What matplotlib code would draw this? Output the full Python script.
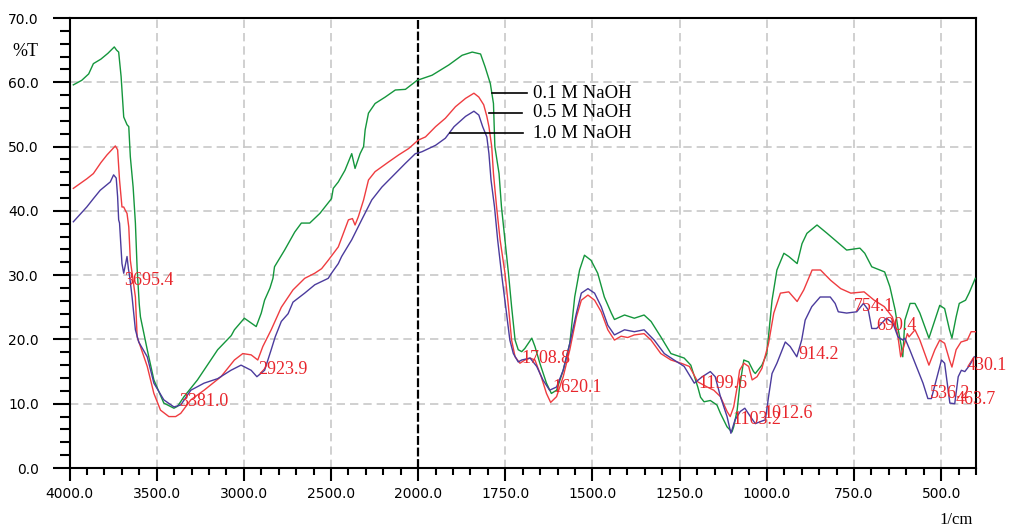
#!/usr/bin/env python3
"""FTIR transmittance spectra of samples treated with 0.1, 0.5 and 1.0 M NaOH."""

import matplotlib

matplotlib.use("Agg")
import matplotlib.pyplot as plt
import numpy as np
from matplotlib.ticker import FixedLocator, FormatStrFormatter

# wavenumber (1/cm) and transmittance (%T) for each treatment
WN_01M = [3978, 3930, 3890, 3863, 3820, 3780, 3743, 3730, 3718, 3704, 3689, 3670, 3660, 3651,
          3635, 3622, 3612, 3600, 3593, 3554, 3516, 3459, 3401, 3380, 3343, 3266, 3150, 3072,
          3054, 2997, 2960, 2929, 2900, 2881, 2850, 2833, 2824, 2766, 2708, 2670, 2622, 2564,
          2497, 2487, 2458, 2420, 2381, 2362, 2333, 2313, 2304, 2285, 2247, 2189, 2131, 2073,
          2006, 1960, 1912, 1874, 1845, 1821, 1808, 1793, 1784, 1780, 1768, 1761, 1751, 1741,
          1732, 1722, 1713, 1703, 1694, 1674, 1665, 1651, 1632, 1618, 1603, 1584, 1565, 1551,
          1537, 1523, 1504, 1485, 1466, 1446, 1437, 1408, 1380, 1352, 1332, 1304, 1275, 1237,
          1218, 1198, 1190, 1180, 1162, 1143, 1133, 1124, 1114, 1100, 1095, 1085, 1078, 1066,
          1052, 1038, 1033, 1014, 1000, 985, 971, 951, 937, 913, 899, 885, 856, 827, 799, 771,
          733, 719, 699, 676, 662, 647, 632, 623, 614, 610, 604, 589, 575, 561, 547, 535, 518,
          504, 490, 476, 469, 457, 448, 430, 420, 402]
T_01M = [59.6, 60.3, 61.3, 62.9, 63.6, 64.5, 65.5, 65.0, 64.7, 60.9, 54.6, 53.4, 53.1, 48.4,
         43.7, 38.1, 31.0, 25.5, 23.5, 18.4, 13.7, 10.1, 9.3, 9.6, 11.1, 13.7, 18.4, 20.6,
         21.5, 23.3, 22.6, 22.0, 24.1, 26.1, 28.0, 29.5, 31.3, 33.9, 36.7, 38.1, 38.1, 39.6,
         41.9, 43.5, 44.5, 46.3, 48.9, 46.6, 48.9, 50.0, 52.6, 55.2, 56.7, 57.7, 58.8, 58.9,
         60.3, 61.1, 62.7, 64.2, 64.7, 64.4, 62.4, 59.8, 56.7, 50.0, 45.8, 40.6, 35.5, 30.3,
         25.1, 19.9, 18.4, 18.1, 18.6, 20.2, 18.9, 16.3, 13.2, 11.6, 12.1, 15.2, 19.4, 26.6,
         30.8, 33.1, 32.3, 30.3, 26.6, 24.1, 23.1, 23.8, 23.3, 23.8, 22.8, 20.4, 17.8, 17.1,
         16.0, 12.6, 11.0, 10.3, 10.5, 9.8, 8.5, 7.5, 6.4, 5.6, 6.4, 9.0, 12.6, 16.8,
         16.5, 15.0, 14.7, 16.0, 17.8, 26.1, 30.8, 33.4, 32.9, 31.8, 34.9, 36.5, 37.8, 36.5, 35.2, 33.9,
         34.2, 33.4, 31.3, 30.8, 30.5, 28.2, 24.6, 21.5, 18.9, 17.3, 23.0, 25.6, 25.6, 24.1, 22.0, 20.2, 23.0,
         25.3, 24.8, 21.5, 20.2, 23.5, 25.6, 26.1, 27.2, 29.5]

WN_05M = [3978, 3900, 3863, 3820, 3785, 3737, 3724, 3713, 3699, 3689, 3680, 3670, 3660, 3651,
          3622, 3612, 3593, 3554, 3516, 3478, 3430, 3391, 3362, 3304, 3228, 3131, 3054, 3006,
          2958, 2929, 2920, 2891, 2843, 2785, 2718, 2651, 2593, 2554, 2516, 2458, 2400, 2377,
          2362, 2343, 2313, 2285, 2247, 2170, 2112, 2054, 2000, 1979, 1950, 1922, 1893, 1864,
          1840, 1826, 1812, 1803, 1797, 1789, 1784, 1775, 1765, 1751, 1741, 1732, 1722, 1708,
          1694, 1679, 1665, 1647, 1632, 1620, 1603, 1584, 1565, 1546, 1532, 1513, 1494, 1475,
          1456, 1437, 1418, 1399, 1380, 1352, 1332, 1304, 1275, 1246, 1222, 1198, 1171, 1152,
          1133, 1114, 1105, 1095, 1085, 1078, 1066, 1052, 1042, 1028, 1014, 995, 980, 961, 937,
          913, 894, 870, 846, 817, 788, 759, 721, 692, 663, 640, 625, 616, 607, 597, 592, 575,
          561, 547, 535, 518, 504, 490, 476, 469, 457, 443, 425, 414, 402]
T_05M = [43.5, 45.0, 45.8, 47.5, 48.7, 50.1, 49.5, 44.8, 40.6, 40.6, 40.1, 39.6, 37.5, 32.3,
         26.6, 20.4, 18.9, 15.8, 11.6, 9.0, 8.0, 8.0, 8.5, 10.6, 12.1, 14.2, 16.8, 17.8,
         17.6, 17.0, 16.8, 18.9, 21.5, 25.0, 27.7, 29.5, 30.3, 31.0, 32.3, 34.4, 38.6, 38.8,
         37.8, 39.1, 41.7, 44.8, 46.1, 47.6, 48.7, 49.7, 51.0, 51.5, 53.1, 54.4, 56.2, 57.5,
         58.3, 57.7, 56.5, 54.7, 53.1, 50.0, 45.8, 40.6, 35.5, 30.3, 25.1, 19.9, 17.3, 16.3,
         16.8, 17.1, 16.8, 14.2, 11.6, 10.2, 11.1, 14.2, 18.4, 23.5, 26.1, 26.9, 26.1, 24.3,
         21.5, 19.9, 20.5, 20.3, 20.7, 20.9, 19.9, 17.8, 16.8, 16.3, 15.8, 13.4, 12.6, 12.1,
         11.1, 8.8, 8.0, 9.5, 12.6, 15.2, 16.3, 15.8, 13.7, 14.2, 15.5, 19.4, 24.1, 27.2, 27.4,
         25.9, 27.7, 30.8, 30.8, 29.2, 27.9, 27.2, 27.4, 26.1, 25.1, 23.5, 20.9, 17.3, 18.9, 20.9, 20.4, 21.5,
         19.9, 17.8, 16.0, 18.4, 19.9, 19.4, 16.8, 15.7, 18.4, 19.6, 19.9, 21.2, 21.2]

WN_10M = [3978, 3901, 3860, 3824, 3766, 3747, 3732, 3724, 3718, 3713, 3699, 3689, 3680, 3670,
          3662, 3655, 3641, 3622, 3603, 3554, 3516, 3459, 3401, 3362, 3304, 3228, 3150, 3074,
          3016, 2958, 2925, 2881, 2843, 2820, 2785, 2746, 2718, 2670, 2651, 2593, 2516, 2497,
          2458, 2439, 2381, 2324, 2266, 2208, 2131, 2073, 2016, 2000, 1989, 1950, 1922, 1897,
          1864, 1840, 1826, 1815, 1803, 1797, 1791, 1781, 1772, 1761, 1749, 1737, 1727, 1713,
          1703, 1679, 1660, 1642, 1623, 1603, 1584, 1565, 1546, 1532, 1513, 1494, 1475, 1456,
          1437, 1408, 1380, 1352, 1323, 1294, 1266, 1237, 1208, 1185, 1162, 1148, 1133, 1114,
          1103, 1091, 1076, 1063, 1047, 1033, 1019, 1004, 995, 985, 971, 947, 933, 914, 900,
          890, 871, 847, 818, 804, 795, 771, 742, 723, 709, 699, 685, 657, 638, 624, 610, 604,
          590, 571, 552, 538, 528, 514, 499, 490, 480, 475, 461, 451, 442, 432, 418, 405]
T_10M = [38.3, 40.6, 42.0, 43.2, 44.5, 45.6, 45.1, 42.2, 38.6, 38.1, 31.8, 30.3, 31.5, 32.9,
         31.0, 29.8, 26.6, 21.5, 19.6, 17.3, 13.2, 10.6, 9.5, 9.8, 12.1, 13.2, 13.9, 15.2,
         16.0, 15.2, 14.2, 15.2, 18.4, 20.4, 22.8, 24.0, 25.8, 26.8, 27.2, 28.5, 29.5, 30.3,
         31.8, 32.9, 35.5, 38.6, 41.7, 43.7, 45.8, 47.4, 48.9, 49.0, 49.2, 50.2, 51.3, 53.1,
         54.7, 55.5, 54.9, 53.1, 51.5, 48.9, 44.8, 40.6, 35.5, 30.3, 25.1, 19.9, 17.8, 16.5,
         16.8, 17.1, 15.8, 13.7, 12.1, 12.6, 15.2, 19.4, 24.1, 27.2, 27.9, 27.2, 25.1, 22.2,
         20.7, 21.5, 21.2, 21.5, 19.9, 17.8, 16.8, 15.8, 13.2, 14.2, 15.0, 14.2, 11.1, 8.0,
         5.4, 7.5, 8.8, 9.3, 8.0, 6.9, 7.2, 7.5, 11.1, 14.7, 16.3, 19.6, 18.9, 17.3, 19.9,
         23.0, 25.1, 26.6, 26.6, 25.6, 24.3, 24.1, 24.3, 25.6, 24.6, 21.7, 21.7, 23.3, 22.5, 20.4, 19.9, 20.2,
         18.4, 15.8, 13.2, 10.8, 10.8, 13.7, 16.8, 16.3, 12.1, 10.1, 10.0, 14.2, 15.2, 15.0, 16.0, 17.3]

SERIES_NAMES = ["0.1 M NaOH", "0.5 M NaOH", "1.0 M NaOH"]
SERIES_COLORS = ["#14963c", "#ef3c40", "#4b3b9d"]

# picked peaks and the height their labels sit at
PEAK_WN = [3695.4, 3381.0, 2923.9, 1708.8, 1620.1, 1199.6, 1103.2, 1012.6, 914.2,
           754.1, 690.4, 536.2, 463.7, 430.1]
PEAK_TEXT_Y = [29.2, 10.3, 15.4, 17.1, 12.5, 13.2, 7.6, 8.4, 17.6, 25.1, 22.1, 11.6, 10.7, 16.0]

MAJOR_WN = [4000, 3500, 3000, 2500, 2000, 1750, 1500, 1250, 1000, 750, 500]


def forward(wn):
    # the instrument halves the scale above 2000 1/cm
    wn = np.asarray(wn, dtype=float)
    return np.where(wn >= 2000, 2000 + (wn - 2000) / 2, wn)


def inverse(u):
    u = np.asarray(u, dtype=float)
    return np.where(u >= 2000, 2000 + (u - 2000) * 2, u)


def setup_axes(fig):
    ax = fig.add_axes([69.5 / 1017, 59 / 527, 906.5 / 1017, 450 / 527])
    ax.set_xscale("function", functions=(forward, inverse))
    ax.set_xlim(4000, 400)
    ax.set_ylim(0, 70)

    minor_wn = [w for w in range(3900, 2000, -100) if w not in MAJOR_WN]
    minor_wn += [w for w in range(1950, 399, -50) if w not in MAJOR_WN]
    ax.xaxis.set_major_locator(FixedLocator(MAJOR_WN))
    ax.xaxis.set_minor_locator(FixedLocator(minor_wn))
    ax.xaxis.set_major_formatter(FormatStrFormatter("%.1f"))
    ax.yaxis.set_major_locator(FixedLocator(np.arange(0, 71, 10)))
    ax.yaxis.set_minor_locator(FixedLocator(np.arange(0, 71, 2)))
    ax.yaxis.set_major_formatter(FormatStrFormatter("%.1f"))

    ax.tick_params(axis="x", which="major", length=9, width=1.5, pad=5, labelsize=10)
    ax.tick_params(axis="x", which="minor", length=5, width=1.5)
    ax.tick_params(axis="y", which="major", length=12, width=1.5, pad=10, labelsize=10)
    ax.tick_params(axis="y", which="minor", length=7, width=1.5)
    for spine in ax.spines.values():
        spine.set_linewidth(1.5)

    grid_style = dict(color="#c8c8c8", lw=1.2, ls=(0, (5, 3)), zorder=0)
    for w in MAJOR_WN[1:]:
        if w != 2000:
            ax.axvline(w, **grid_style)
    for t in range(10, 70, 10):
        ax.axhline(t, **grid_style)
    ax.axvline(2000, color="black", lw=1.6, ls=(0, (4, 1.2)), zorder=1)
    return ax


def main():
    fig = plt.figure(figsize=(10.17, 5.27), dpi=100)
    ax = setup_axes(fig)

    series = [(WN_01M, T_01M), (WN_05M, T_05M), (WN_10M, T_10M)]
    for (wn, t), color in zip(series, SERIES_COLORS):
        ax.plot(wn, t, color=color, lw=1.0, zorder=3)

    # leader lines from each trace to its name
    leaders = [(1789, 1689, 58.3), (1797, 1703, 55.3), (1909, 1698, 52.1)]
    for name, (w0, w1, y) in zip(SERIES_NAMES, leaders):
        ax.plot([w0, w1], [y, y], color="black", lw=1.2, zorder=4)
        ax.text(1672, y, name, fontsize=13.5, family="Liberation Serif",
                va="center", ha="left", zorder=5)

    for wn, y in zip(PEAK_WN, PEAK_TEXT_Y):
        ax.annotate(f"{wn:.1f}", (wn, y), xytext=(1, 0), textcoords="offset points",
                    color="#e8262c", fontsize=13, family="Liberation Serif",
                    va="center", ha="left", zorder=6, annotation_clip=False)

    fig.text(25 / 1017, 1 - 52 / 527, "%T", fontsize=13, family="Liberation Serif",
             ha="center", va="center")
    fig.text(956 / 1017, 1 - 520 / 527, "1/cm", fontsize=12, family="Liberation Serif",
             ha="center", va="center")

    fig.savefig("out.png", dpi=100)


if __name__ == "__main__":
    main()
